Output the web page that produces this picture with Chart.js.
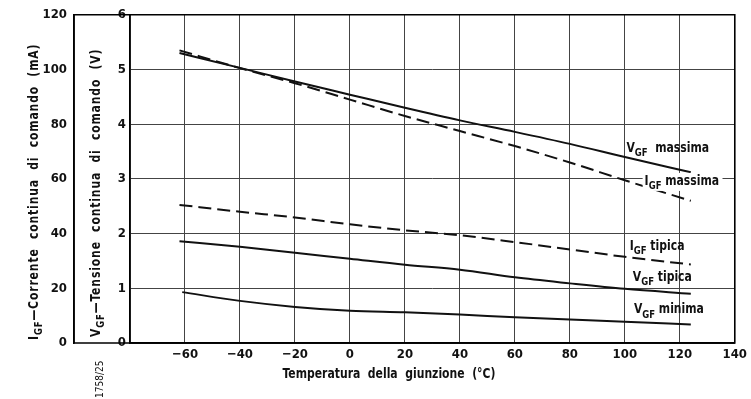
<!DOCTYPE html>
<html>
<head>
<meta charset="utf-8">
<script src="https://cdn.jsdelivr.net/npm/chart.js@4.4.0/dist/chart.umd.min.js"></script>
<style>
  body { margin: 0; background: #fff; }
</style>
</head>
<body>
<canvas id="chart" width="751" height="399"></canvas>
<script>
const temps = [-62, -40, -20, 0, 20, 40, 60, 80, 100, 124];
const minimaTemps = [-61, -40, -20, 0, 20, 40, 60, 80, 100, 124];

// VGF curves in V
const vgfMassima = [5.30, 5.03, 4.78, 4.54, 4.30, 4.07, 3.86, 3.64, 3.40, 3.12];
const vgfTipica = [1.86, 1.76, 1.65, 1.54, 1.43, 1.34, 1.20, 1.09, 0.99, 0.90];
const vgfMinima = [0.93, 0.77, 0.66, 0.59, 0.56, 0.52, 0.47, 0.43, 0.39, 0.34];

// IGF curves in mA
const igfMassima = [107, 100.5, 95, 89, 83, 77.5, 72, 66, 59.5, 52];
const igfTipica = [50.5, 48, 45.9, 43.4, 41.2, 39.4, 36.9, 34.2, 31.5, 28.7];

const FONT = '"DejaVu Sans Condensed", "Liberation Sans Narrow", "DejaVu Sans", sans-serif';
const SQUEEZE = 0.86; // drawing-lettering look: narrow glyphs

function pts(xs, ys) {
    return xs.map((x, i) => ({x: x, y: ys[i]}));
}

// draws e.g. V + subscript GF + rest (narrowed), returns width
function drawSub(ctx, x, y, main, sub, rest, size) {
    ctx.save();
    ctx.translate(x, y);
    ctx.scale(SQUEEZE, 1);
    ctx.font = 'bold ' + size + 'px ' + FONT;
    ctx.fillText(main, 0, 0);
    let w = ctx.measureText(main).width;
    ctx.font = 'bold ' + Math.round(size * 0.8) + 'px ' + FONT;
    ctx.fillText(sub, w, size * 0.3);
    w += ctx.measureText(sub).width;
    ctx.font = 'bold ' + size + 'px ' + FONT;
    ctx.fillText(rest, w, 0);
    w += ctx.measureText(rest).width;
    ctx.restore();
    return w * SQUEEZE;
}

const curveLabels = [
    {t: 100.6, v: 3.50, main: 'V', sub: 'GF', rest: '  massima', bg: false},
    {t: 107.2, v: 2.89, main: 'I', sub: 'GF', rest: ' massima', bg: true},
    {t: 101.8, v: 1.70, main: 'I', sub: 'GF', rest: ' tipica', bg: false},
    {t: 102.9, v: 1.13, main: 'V', sub: 'GF', rest: ' tipica', bg: false},
    {t: 103.3, v: 0.54, main: 'V', sub: 'GF', rest: ' minima', bg: false}
];

const decorPlugin = {
    id: 'decor',
    afterDraw(chart) {
        const ctx = chart.ctx;
        const a = chart.chartArea;
        const x = chart.scales.x;
        const v = chart.scales.v;
        const ma = chart.scales.ma;
        ctx.save();

        // curve labels
        ctx.fillStyle = '#111';
        ctx.textBaseline = 'alphabetic';
        ctx.textAlign = 'left';
        curveLabels.forEach(l => {
            const px = x.getPixelForValue(l.t);
            const py = v.getPixelForValue(l.v);
            if (l.bg) {
                ctx.font = 'bold 14px ' + FONT;
                const w = ctx.measureText(l.main + 'GF' + l.rest).width * SQUEEZE;
                ctx.fillStyle = '#fff';
                ctx.fillRect(px - 2, py - 12, Math.min(w + 2, a.right - 8 - px), 18);
                ctx.fillStyle = '#111';
            }
            drawSub(ctx, px, py, l.main, l.sub, l.rest, 14);
        });

        // frame
        ctx.strokeStyle = '#000';
        ctx.lineWidth = 1.6;
        ctx.beginPath();
        ctx.moveTo(ma.right, a.top);
        ctx.lineTo(a.right, a.top);
        ctx.lineTo(a.right, a.bottom);
        ctx.lineTo(ma.right, a.bottom);
        ctx.lineTo(ma.right, a.top);
        ctx.stroke();

        // axis titles, spaced out like the drawing lettering
        ctx.letterSpacing = '1px';
        ctx.save();
        ctx.translate(38, 340);
        ctx.rotate(-Math.PI / 2);
        drawSub(ctx, 0, 0, 'I', 'GF', '\u2014Corrente  continua  di  comando  (mA)', 14);
        ctx.restore();

        ctx.save();
        ctx.translate(100, 337);
        ctx.rotate(-Math.PI / 2);
        drawSub(ctx, 0, 0, 'V', 'GF', '\u2014Tensione  continua  di  comando  (V)', 14);
        ctx.restore();
        ctx.letterSpacing = '0px';

        ctx.save();
        ctx.translate(389, 378);
        ctx.scale(SQUEEZE, 1);
        ctx.font = 'bold 14px ' + FONT;
        ctx.textAlign = 'center';
        ctx.fillText('Temperatura  della  giunzione  (\u00b0C)', 0, 0);
        ctx.restore();

        ctx.save();
        ctx.translate(103, 398);
        ctx.rotate(-Math.PI / 2);
        ctx.textAlign = 'left';
        ctx.font = '10px ' + FONT;
        ctx.fillText('1758/25', 0, 0);
        ctx.restore();

        ctx.restore();
    }
};

const solid = {borderColor: '#111', borderWidth: 2, pointRadius: 0, fill: false, cubicInterpolationMode: 'monotone'};
const dashed = Object.assign({}, solid, {borderDash: [13, 6]});
const tickFont = {family: FONT, size: 13, weight: 'bold'};

new Chart(document.getElementById('chart'), {
    type: 'line',
    data: {
        datasets: [
            Object.assign({label: 'VGF massima', data: pts(temps, vgfMassima), yAxisID: 'v'}, solid),
            Object.assign({label: 'IGF massima', data: pts(temps, igfMassima), yAxisID: 'ma'}, dashed),
            Object.assign({label: 'IGF tipica', data: pts(temps, igfTipica), yAxisID: 'ma'}, dashed),
            Object.assign({label: 'VGF tipica', data: pts(temps, vgfTipica), yAxisID: 'v'}, solid),
            Object.assign({label: 'VGF minima', data: pts(minimaTemps, vgfMinima), yAxisID: 'v'}, solid)
        ]
    },
    options: {
        responsive: false,
        animation: false,
        layout: {padding: {top: 6, right: 14, left: 0, bottom: 0}},
        plugins: {legend: {display: false}, tooltip: {enabled: false}},
        scales: {
            x: {
                type: 'linear',
                min: -80,
                max: 140,
                afterFit: s => { s.height = 56; },
                afterBuildTicks: s => {
                    s.ticks = [];
                    for (let t = -80; t <= 140; t += 20) s.ticks.push({value: t});
                },
                ticks: {
                    padding: 4,
                    color: '#111',
                    font: tickFont,
                    callback: val => val === -80 ? '' : (val < 0 ? '\u2212' + Math.abs(val) : String(val)),
                    maxRotation: 0
                },
                grid: {color: '#444', lineWidth: 1, drawTicks: false},
                border: {display: true, color: '#000', width: 1.6}
            },
            v: {
                position: 'left',
                weight: 0,
                min: 0,
                max: 6,
                afterFit: s => { s.width = 56; },
                ticks: {
                    stepSize: 1,
                    padding: 4,
                    color: '#111',
                    font: tickFont
                },
                grid: {color: '#444', lineWidth: 1, drawTicks: false},
                border: {display: true, color: '#000', width: 1.6}
            },
            ma: {
                position: 'left',
                weight: 1,
                min: 0,
                max: 120,
                afterFit: s => { s.width = 74; },
                ticks: {
                    stepSize: 20,
                    padding: 7,
                    color: '#111',
                    font: tickFont
                },
                grid: {display: false, drawTicks: false},
                border: {display: true, color: '#000', width: 1.6}
            }
        }
    },
    plugins: [decorPlugin]
});
</script>
</body>
</html>
